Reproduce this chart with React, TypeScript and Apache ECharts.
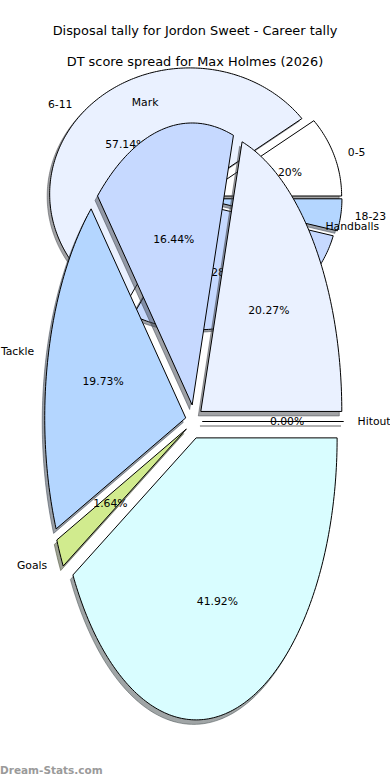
import React, { useEffect, useRef } from "react";
import * as echarts from "echarts";

// ---------- texts ----------
const titleTop = "Disposal tally for Jordon Sweet - Career tally";
const titleBottom = "DT score spread for Max Holmes (2026)";
const watermark = "Dream-Stats.com";

// ---------- pie 1: DT score spread ----------
const dtCategories = ["0-5", "6-11", "12-17", "18-23"];
const dtPercents = [10.2, 57.14, 28.57, 4.09];
const dtColors = ["#ffffff", "#eaf1ff", "#c6d9ff", "#b4d6ff"];

// ---------- pie 2: disposal tally ----------
const disposalCategories = ["Handballs", "Mark", "Tackle", "Goals", "Kick", "Hitout"];
const disposalLabels = ["Handballs", "Mark", "Tackle", "Goals", "", "Hitout"];
const disposalPercents = [20.27, 16.44, 19.73, 1.64, 41.92, 0];
const disposalColors = ["#eaf1ff", "#c6d9ff", "#b4d6ff", "#d1eb8e", "#d9fdff", "#ffffff"];

const FONT = '"DejaVu Sans", sans-serif';

type Geom = {
  cx: number;
  cy: number;
  rx: number;
  ry: number;
  explode: number;
  sdx: number;
  sdy: number;
  minPct: number; // percentage labels are only written for slices at or above this share
};

const dtGeom: Geom = { cx: 195, cy: 198, rx: 140, ry: 126, explode: 0.05, sdx: -2.5, sdy: 2.5, minPct: 5 };
const disposalGeom: Geom = { cx: 194, cy: 421.5, rx: 141, ry: 282, explode: 0.06, sdx: -2.5, sdy: 4.5, minPct: -1 };

function shadowColor(hex: string) {
  const h = hex.replace("#", "");
  const r = Math.round(parseInt(h.slice(0, 2), 16) * 0.3);
  const g = Math.round(parseInt(h.slice(2, 4), 16) * 0.3);
  const b = Math.round(parseInt(h.slice(4, 6), 16) * 0.3);
  return `rgba(${r},${g},${b},0.5)`;
}

function ellipticPie(
  name: string,
  categories: string[],
  values: number[],
  labels: string[],
  colors: string[],
  geom: Geom,
  z: number
) {
  const total = values.reduce((a, b) => a + b, 0);
  const starts: number[] = [];
  let acc = 0;
  values.forEach((v) => {
    starts.push(acc);
    acc += v;
  });
  return {
    type: "custom",
    name,
    coordinateSystem: "none",
    z,
    silent: true,
    data: values.map((v, i) => ({ name: categories[i], value: [v, i] })),
    renderItem: (params: any, api: any) => {
      const i = params.dataIndex;
      const v = api.value(0);
      const t1 = (starts[i] / total) * 360;
      const t2 = ((starts[i] + v) / total) * 360;
      const mid = (((t1 + t2) / 2) * Math.PI) / 180;
      const cm = Math.cos(mid);
      const sm = Math.sin(mid);
      const ex = geom.cx + geom.explode * geom.rx * cm;
      const ey = geom.cy - geom.explode * geom.ry * sm;
      const pts: number[][] = [[ex, ey]];
      const n = Math.max(1, Math.ceil(t2 - t1));
      for (let k = 0; k <= n; k++) {
        const t = ((t1 + ((t2 - t1) * k) / n) * Math.PI) / 180;
        pts.push([ex + geom.rx * Math.cos(t), ey - geom.ry * Math.sin(t)]);
      }
      const spts = pts.map(([x, y]) => [x + geom.sdx, y + geom.sdy]);
      const sc = shadowColor(colors[i]);
      const share = (v / total) * 100;
      const pct = share >= geom.minPct ? share.toFixed(2) + "%" : "";
      return {
        type: "group",
        children: [
          {
            type: "polygon",
            z2: 0,
            shape: { points: spts },
            style: { fill: sc, stroke: sc, lineWidth: 1 },
          },
          {
            type: "polygon",
            z2: 1,
            shape: { points: pts },
            style: { fill: colors[i], stroke: "#000000", lineWidth: 1 },
          },
          {
            type: "text",
            z2: 2,
            style: {
              text: labels[i],
              x: ex + 1.1 * geom.rx * cm,
              y: ey - 1.1 * geom.ry * sm,
              font: `10.8px ${FONT}`,
              fill: "#000000",
              textAlign: cm < 0 ? "right" : "left",
              textVerticalAlign: "middle",
            },
          },
          {
            type: "text",
            z2: 2,
            style: {
              text: pct,
              x: ex + 0.6 * geom.rx * cm,
              y: ey - 0.6 * geom.ry * sm,
              font: `10.8px ${FONT}`,
              fill: "#000000",
              textAlign: "center",
              textVerticalAlign: "middle",
            },
          },
        ],
      };
    },
  };
}

export default function App() {
  const ref = useRef<HTMLDivElement>(null);
  useEffect(() => {
    if (!ref.current) return;
    const chart = echarts.init(ref.current, undefined, { renderer: "svg" });
    chart.setOption({
      animation: false,
      backgroundColor: "#ffffff",
      graphic: [
        {
          type: "text",
          x: 195,
          y: 30,
          style: {
            text: titleTop,
            font: `12.9px ${FONT}`,
            fill: "#000000",
            textAlign: "center",
            textVerticalAlign: "middle",
          },
        },
        {
          type: "text",
          x: 195,
          y: 61,
          style: {
            text: titleBottom,
            font: `12.9px ${FONT}`,
            fill: "#000000",
            textAlign: "center",
            textVerticalAlign: "middle",
          },
        },
        {
          type: "text",
          x: 0,
          y: 770,
          style: {
            text: watermark,
            font: `bold 10.5px ${FONT}`,
            fill: "#9a9a9a",
            textAlign: "left",
            textVerticalAlign: "middle",
          },
        },
      ],
      series: [
        ellipticPie("DT score spread", dtCategories, dtPercents, dtCategories, dtColors, dtGeom, 2),
        ellipticPie(
          "Disposal tally",
          disposalCategories,
          disposalPercents,
          disposalLabels,
          disposalColors,
          disposalGeom,
          3
        ),
      ],
    });
    return () => chart.dispose();
  }, []);
  return (
    <div
      ref={ref}
      style={{ position: "fixed", left: 0, top: 0, width: 390, height: 780, background: "#fff" }}
    />
  );
}
